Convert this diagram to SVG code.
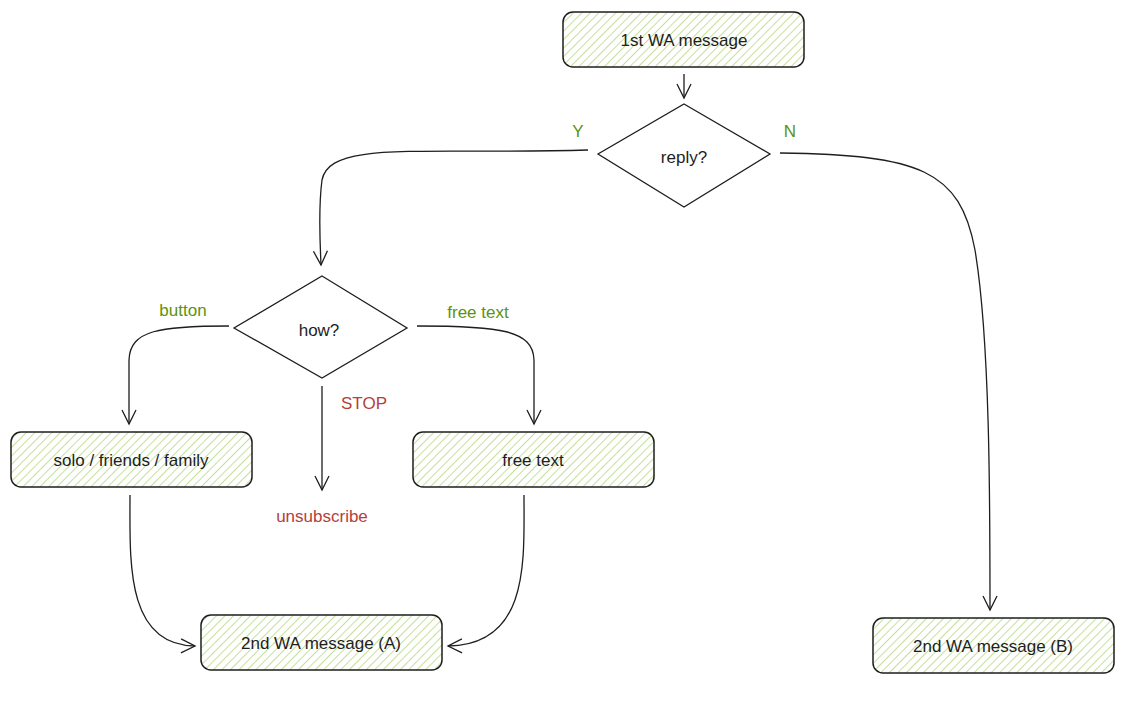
<svg xmlns="http://www.w3.org/2000/svg" width="1137" height="705" viewBox="0 0 1137 705">
<style>
.box{fill:url(#hatch);stroke:#1e1e1e;stroke-width:1.5}
.dia{fill:#fff;stroke:#1e1e1e;stroke-width:1.3}
.t{font-family:"Liberation Sans",sans-serif;font-size:17px;fill:#1e1e1e;text-anchor:middle;dominant-baseline:central}
.g{fill:#5c940d}.r{fill:#b5403a}
.c{fill:none;stroke:#1e1e1e;stroke-width:1.3}
</style>
<defs>
<pattern id="hatch" width="6" height="6" patternUnits="userSpaceOnUse" patternTransform="rotate(45)">
<rect width="6" height="6" fill="#fff"/><line x1="0" y1="0" x2="0" y2="6" stroke="#b2d67a" stroke-width="1.5"/>
</pattern>
<marker id="a" markerWidth="20" markerHeight="20" refX="16" refY="8" orient="auto" markerUnits="userSpaceOnUse">
<path d="M2 1 L16 8 L2 15" fill="none" stroke="#1e1e1e" stroke-width="1.3"/>
</marker>
</defs>
<rect width="1137" height="705" fill="#fff"/>
<g id="n1"><rect class="box" x="563" y="12" width="241" height="55" rx="10"/><text class="t" x="684" y="40">1st WA message</text></g>
<g id="n2"><path class="dia" d="M684 104 L770 154 L684 207 L598 154 Z"/><text class="t" x="684" y="157">reply?</text></g>
<g id="n3"><path class="dia" d="M322 276 L407 328 L322 378 L234 328 Z"/><text class="t" x="319" y="330">how?</text></g>
<g id="n4"><rect class="box" x="11" y="432" width="241" height="55" rx="10"/><text class="t" x="131" y="460">solo / friends / family</text></g>
<g id="n5"><rect class="box" x="413" y="432" width="241" height="55" rx="10"/><text class="t" x="533" y="460">free text</text></g>
<g id="n6"><rect class="box" x="201" y="615" width="241" height="55" rx="10"/><text class="t" x="321" y="643">2nd WA message (A)</text></g>
<g id="n7"><rect class="box" x="873" y="618" width="241" height="55" rx="10"/><text class="t" x="993" y="646">2nd WA message (B)</text></g>
<g id="labels">
<text class="t g" x="578" y="131" font-size="15">Y</text>
<text class="t g" x="790" y="131" font-size="15">N</text>
<text class="t g" x="183" y="310">button</text>
<text class="t g" x="478" y="312">free text</text>
<text class="t r" x="364" y="403">STOP</text>
<text class="t r" x="322" y="516">unsubscribe</text>
</g>
<g id="connectors">
<path class="c" marker-end="url(#a)" d="M684 74 L684 98"/>
<path class="c" marker-end="url(#a)" d="M588 150 C420 155 330 140 322 180 C318 210 320 240 321 265"/>
<path class="c" marker-end="url(#a)" d="M780 153 C920 155 960 170 975 250 C990 340 990 500 990 610"/>
<path class="c" marker-end="url(#a)" d="M229 326 C160 326 130 330 129 360 L129 424"/>
<path class="c" marker-end="url(#a)" d="M417 326 C500 326 533 330 534 360 L534 424"/>
<path class="c" marker-end="url(#a)" d="M322 386 L322 490"/>
<path class="c" marker-end="url(#a)" d="M130 495 C130 560 125 645 195 646"/>
<path class="c" marker-end="url(#a)" d="M524 495 C524 560 530 645 448 646"/>
</g>
</svg>
